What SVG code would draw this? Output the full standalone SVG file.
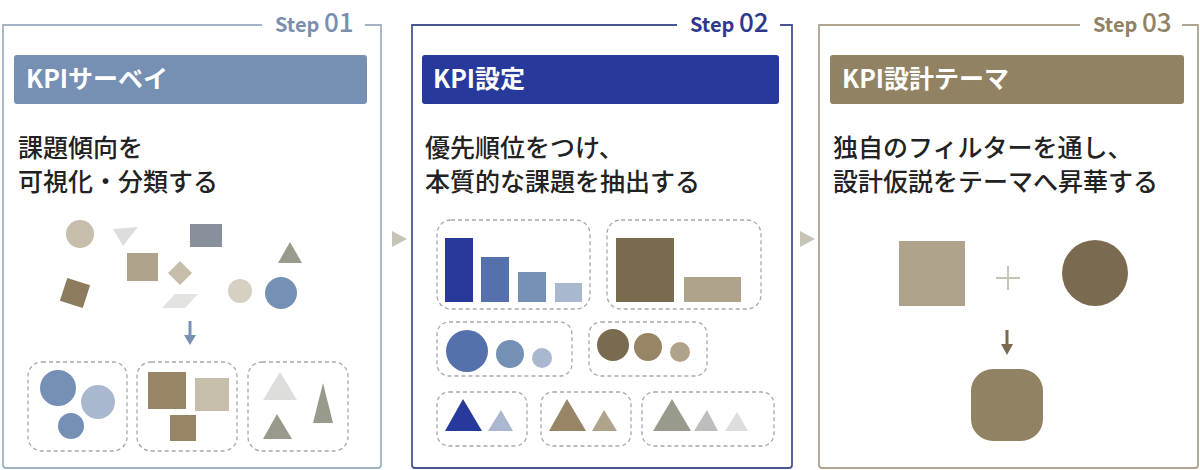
<svg xmlns="http://www.w3.org/2000/svg" width="1200" height="470" viewBox="0 0 1200 470">
<style>
.frame{fill:none;stroke-width:1.8}
.step{font-family:"Noto Sans CJK JP","Noto Sans",sans-serif;font-weight:700;font-size:20px}
.num{font-size:26px;font-weight:500}
.head{font-family:"Noto Sans CJK JP","Noto Sans",sans-serif;font-weight:700;font-size:25px;fill:#ffffff}
.body{font-family:"Noto Sans CJK JP","Noto Sans",sans-serif;font-weight:500;font-size:25px;fill:#222222}
.dash{fill:none;stroke:#a8a8a8;stroke-width:1.3;stroke-dasharray:4 3}
</style>
<rect width="1200" height="470" fill="#ffffff"/>

<g id="step1">
<path class="frame" stroke="#a3b1c6" d="M262,25 H3 V465 Q3,468 6,468 H378 Q381,468 381,465 V25 H365"/>
<text class="step" x="275" y="32" fill="#7a8fae">Step <tspan class="num">01</tspan></text>
<rect x="14" y="55" width="353" height="49" rx="3" fill="#7690b3"/>
<text class="head" x="26" y="88">KPIサーベイ</text>
<text class="body" x="18" y="157">課題傾向を</text>
<text class="body" x="18" y="191">可視化・分類する</text>
<circle cx="80" cy="234" r="14" fill="#c6bdab"/>
<polygon points="113,229 138,227 123,246" fill="#dddddb"/>
<rect x="190" y="224" width="32" height="23" fill="#8a8f9c"/>
<polygon points="290,242 278,263 302,263" fill="#9a9a8c"/>
<rect x="127" y="253" width="31" height="28" fill="#b0a38c"/>
<polygon points="180,261 192,273 180,285 168,273" fill="#c6bdab"/>
<rect x="63" y="281" width="24" height="24" fill="#8c7b5c" transform="rotate(18 75 293)"/>
<polygon points="175,294 198,294 185,308 162,308" fill="#e3e3e1"/>
<circle cx="240" cy="291" r="12" fill="#d6d0c3"/>
<circle cx="281" cy="293" r="16" fill="#7590b5"/>
<rect x="28" y="362" width="99" height="89" rx="14" class="dash"/>
<rect x="137" y="362" width="100" height="89" rx="14" class="dash"/>
<rect x="248" y="362" width="100" height="89" rx="14" class="dash"/>
<circle cx="58" cy="388" r="18" fill="#7590b5"/>
<circle cx="98" cy="402" r="17" fill="#aab8cf"/>
<circle cx="71" cy="426" r="13" fill="#7590b5"/>
<rect x="148" y="372" width="38" height="37" fill="#978565"/>
<rect x="195" y="378" width="34" height="33" fill="#c6bdab"/>
<rect x="170" y="415" width="26" height="26" fill="#978565"/>
<polygon points="280,372 297,400 263,400" fill="#dddddb"/>
<polygon points="323,383 333,423 313,423" fill="#9a9a8c"/>
<polygon points="277,414 292,439 263,439" fill="#9a9a8c"/>
</g>

<g id="step2">
<path class="frame" stroke="#4a5597" d="M677,25 H412 V465 Q412,468 415,468 H789 Q792,468 792,465 V25 H780"/>
<text class="step" x="690" y="32" fill="#2b3a8c">Step <tspan class="num">02</tspan></text>
<rect x="422" y="55" width="357" height="49" rx="3" fill="#27399a"/>
<text class="head" x="433" y="88">KPI設定</text>
<text class="body" x="425" y="157">優先順位をつけ、</text>
<text class="body" x="425" y="191">本質的な課題を抽出する</text>
<rect x="437" y="220" width="153" height="89" rx="14" class="dash"/>
<rect x="607" y="220" width="154" height="89" rx="14" class="dash"/>
<rect x="445" y="238" width="28" height="64" fill="#27399a"/>
<rect x="481" y="257" width="28" height="45" fill="#5470ad"/>
<rect x="518" y="272" width="28" height="30" fill="#7590b5"/>
<rect x="555" y="283" width="27" height="19" fill="#aab8cf"/>
<rect x="616" y="238" width="58" height="64" fill="#7a6a50"/>
<rect x="684" y="277" width="57" height="25" fill="#b0a38c"/>
<rect x="437" y="322" width="135" height="54" rx="12" class="dash"/>
<rect x="589" y="322" width="118" height="54" rx="12" class="dash"/>
<circle cx="467" cy="351" r="21" fill="#5470ad"/>
<circle cx="510" cy="354" r="14" fill="#7590b5"/>
<circle cx="542" cy="358" r="10" fill="#aab8cf"/>
<circle cx="613" cy="345" r="16" fill="#7a6a50"/>
<circle cx="648" cy="347" r="14" fill="#978565"/>
<circle cx="680" cy="352" r="10" fill="#b0a38c"/>
<rect x="437" y="392" width="90" height="54" rx="12" class="dash"/>
<rect x="541" y="392" width="90" height="54" rx="12" class="dash"/>
<rect x="642" y="392" width="132" height="54" rx="12" class="dash"/>
<polygon points="463,399 482,431 445,431" fill="#27399a"/>
<polygon points="501,410 513,431 488,431" fill="#aab8cf"/>
<polygon points="567,399 586,431 549,431" fill="#978565"/>
<polygon points="604,410 617,431 592,431" fill="#b0a38c"/>
<polygon points="672,399 691,431 653,431" fill="#9a9a8c"/>
<polygon points="707,410 718,431 694,431" fill="#bdbdbb"/>
<polygon points="737,412 748,431 725,431" fill="#dddddb"/>
</g>

<g id="step3">
<path class="frame" stroke="#b0a48e" d="M1080,25 H819 V465 Q819,468 822,468 H1195 Q1198,468 1198,465 V25 H1182"/>
<text class="step" x="1093" y="32" fill="#928264">Step <tspan class="num">03</tspan></text>
<rect x="830" y="55" width="354" height="49" rx="3" fill="#928264"/>
<text class="head" x="842" y="88">KPI設計テーマ</text>
<text class="body" x="833" y="157">独自のフィルターを通し、</text>
<text class="body" x="833" y="191">設計仮説をテーマへ昇華する</text>
<rect x="899" y="241" width="66" height="65" fill="#b0a38c"/>
<path d="M996,278 H1020 M1008,266 V290" stroke="#c8c3b8" stroke-width="2" fill="none"/>
<circle cx="1095" cy="273" r="33" fill="#7a6a50"/>
<rect x="971" y="369" width="72" height="72" rx="22" fill="#928264"/>
</g>

<g id="connectors">
<polygon points="392,231 407,239 392,247" fill="#c8c3b8"/>
<polygon points="800,231 815,239 800,247" fill="#c8c3b8"/>
<path d="M190,321 V336" stroke="#7a90b5" stroke-width="3" fill="none"/>
<polygon points="184,335 196,335 190,345" fill="#7a90b5"/>
<path d="M1007,330 V345" stroke="#7a6a50" stroke-width="3" fill="none"/>
<polygon points="1001,344 1013,344 1007,355" fill="#7a6a50"/>
</g>
</svg>
